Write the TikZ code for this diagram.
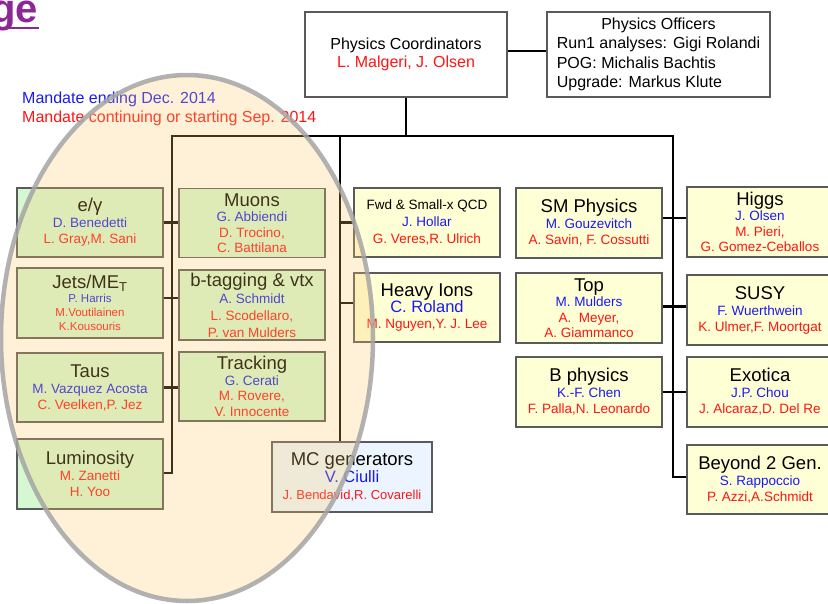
\documentclass[tikz,border=0pt]{standalone}
\usepackage{fontspec}
\setmainfont{Liberation Sans}
\definecolor{bordergray}{RGB}{90,90,90}
\definecolor{boxgreen}{RGB}{213,248,210}
\definecolor{boxyellow}{RGB}{255,255,213}
\definecolor{boxblue}{RGB}{236,245,255}
\definecolor{nameblue}{RGB}{25,25,245}
\definecolor{namered}{RGB}{255,20,20}
\definecolor{ovalfill}{RGB}{251,199,103}
\definecolor{ovalline}{RGB}{165,165,165}
\definecolor{titlepurple}{RGB}{140,40,150}
\newcommand{\boxhead}[1]{{\fontsize{18.5}{20}\selectfont #1}}
\newcommand{\bluename}[1]{{\color{nameblue}#1}}
\newcommand{\redname}[1]{{\color{namered}#1}}
\begin{document}
\begin{tikzpicture}[x=1pt,y=-1pt,
  box/.style={draw=bordergray, line width=1.1pt, minimum width=146pt, minimum height=69pt,
    inner sep=0pt, align=center, font=\fontsize{13.5}{16}\selectfont},
  gbox/.style={box, fill=boxgreen},
  ybox/.style={box, fill=boxyellow},
  link/.style={line width=2.7pt, draw=black, line join=miter}
]
\useasboundingbox (0,0) rectangle (828,603);

% title fragment
\node[anchor=base east, inner sep=0pt, text=titlepurple, font=\fontsize{40}{40}\selectfont\bfseries] (ttl) at (38,22) {ge};
\draw[titlepurple, line width=2.2pt] (ttl.base west |- 0,28) -- (39,28);

% legend
\node[anchor=base west, inner sep=0pt, text=nameblue, font=\fontsize{16}{19}\selectfont] (leg1) at (22,103) {Mandate ending Dec. 2014};
\node[anchor=base west, inner sep=0pt, text=namered, font=\fontsize{16}{19}\selectfont] (leg2) at (22,122) {Mandate continuing or starting Sep. 2014};

% top boxes
\node[box, minimum width=202pt, minimum height=85pt, fill=white, font=\fontsize{16}{18.5}\selectfont] (coord) at (406,54.5)
  {Physics Coordinators\\ \redname{L. Malgeri, J. Olsen}};
\node[box, minimum width=223pt, minimum height=85pt, fill=white, font=\fontsize{16}{19.5}\selectfont] (off) at (658.5,54.5)
  {\renewcommand{\arraystretch}{1}\begin{tabular}{@{}l@{}}\multicolumn{1}{@{}c@{}}{Physics Officers}\\ Run1 analyses: Gigi Rolandi\\ POG: Michalis Bachtis\\ Upgrade: Markus Klute\end{tabular}};

% left (green) boxes
\node[gbox] (eg) at (90,222.5) {\boxhead{e/γ}\\ \bluename{D. Benedetti}\\ \redname{L. Gray,M. Sani}};
\node[gbox, font=\fontsize{13.5}{15.5}\selectfont] (mu) at (252,223) {\boxhead{Muons}\\ \bluename{G. Abbiendi}\\ \redname{D. Trocino,}\\ \redname{C. Battilana}};
\node[gbox, minimum height=70pt, font=\fontsize{11.5}{14}\selectfont] (jet) at (90,303) {\boxhead{Jets/ME\textsubscript{T}}\\ \bluename{P. Harris}\\ \redname{M.Voutilainen}\\ \redname{K.Kousouris}};
\node[gbox, minimum height=70pt, font=\fontsize{13.5}{17}\selectfont] (bt) at (252,305) {\boxhead{b-tagging \& vtx}\\ \bluename{A. Schmidt}\\ \redname{L. Scodellaro,}\\ \redname{P. van Mulders}};
\node[gbox] (tau) at (90,387.5) {\boxhead{Taus}\\ \bluename{M. Vazquez Acosta}\\ \redname{C. Veelken,P. Jez}};
\node[gbox, font=\fontsize{13.5}{15.5}\selectfont] (trk) at (252,386.5) {\boxhead{Tracking}\\ \bluename{G. Cerati}\\ \redname{M. Rovere,}\\ \redname{V. Innocente}};
\node[gbox, minimum height=70pt] (lumi) at (90,474) {\boxhead{Luminosity}\\ \redname{M. Zanetti}\\ \redname{H. Yoo}};

% middle boxes
\node[ybox, font=\fontsize{13.5}{17}\selectfont] (fwd) at (427,222.5) {\color{black}Fwd \& Small-x QCD\\ \bluename{J. Hollar}\\ \redname{G. Veres,R. Ulrich}};
\node[ybox] (hi) at (427,307.5) {\boxhead{Heavy Ions}\\ {\fontsize{16.5}{19}\selectfont\bluename{C. Roland}}\\ \redname{M. Nguyen,Y. J. Lee}};
\node[box, fill=boxblue, minimum width=160pt, minimum height=70pt, font=\fontsize{13}{17}\selectfont] (mc) at (352,477) {\boxhead{MC generators}\\ {\fontsize{16.5}{19}\selectfont\bluename{V. Ciulli}}\\ \redname{J. Bendavid,R. Covarelli}};

\node[ybox, minimum height=70pt] (sm) at (589,223) {\boxhead{SM Physics}\\ \bluename{M. Gouzevitch}\\ \redname{A. Savin, F. Cossutti}};
\node[ybox, minimum height=70pt, font=\fontsize{13.5}{15.5}\selectfont] (top) at (589,308) {\boxhead{Top}\\ \bluename{M. Mulders}\\ \redname{A.\ \ Meyer,}\\ \redname{A. Giammanco}};
\node[ybox, minimum height=70pt] (bph) at (589,392) {\boxhead{B physics}\\ \bluename{K.-F. Chen}\\ \redname{F. Palla,N. Leonardo}};

% right boxes
\node[ybox, minimum height=70pt, font=\fontsize{13.5}{15.5}\selectfont] (higgs) at (760,222) {\boxhead{Higgs}\\ \bluename{J. Olsen}\\ \redname{M. Pieri,}\\ \redname{G. Gomez-Ceballos}};
\node[ybox, minimum height=70pt] (susy) at (760,310) {\boxhead{SUSY}\\ \bluename{F. Wuerthwein}\\ \redname{K. Ulmer,F. Moortgat}};
\node[ybox, minimum height=70pt] (exo) at (760,392) {\boxhead{Exotica}\\ \bluename{J.P. Chou}\\ \redname{J. Alcaraz,D. Del Re}};
\node[ybox] (bey) at (760,479.5) {\boxhead{Beyond 2 Gen.}\\ \bluename{S. Rappoccio}\\ \redname{P. Azzi,A.Schmidt}};

% bus coordinates
\coordinate (bL) at (172,136);
\coordinate (bM) at (340,136);
\coordinate (bR) at (673,136);
\coordinate (r2) at (172,298);
\coordinate (r5) at (340,303);
\coordinate (r6) at (673,218);
\coordinate (r7) at (673,306.5);

% connectors
\draw[link] ([yshift=3.5pt]coord.east) -- ([yshift=3.5pt]off.west);
\draw[link] (coord.south) -- (coord.south |- bL);
\draw[link] ([yshift=1pt]lumi.east) -| (bL) -- (bR) |- ([yshift=2.5pt]bey.west);
\draw[link] (bM) -- (bM |- mc.north);
\draw[link] (eg.east) -- (eg.east -| mu.west);
\draw[link] (jet.east |- r2) -- (bt.west |- r2);
\draw[link] (tau.east) -- (tau.east -| trk.west);
\draw[link] (bM |- fwd.west) -- (fwd.west);
\draw[link] (r5) -- (hi.west |- r5);
\draw[link] (sm.east |- r6) -- (higgs.west |- r6);
\draw[link] (top.east |- r7) -- (susy.west |- r7);
\draw[link] (bph.east) -- (exo.west);

% highlight oval
\fill[ovalfill, fill opacity=0.26] (187,338) ellipse [x radius=186pt, y radius=263pt];
\draw[ovalline, line width=4.5pt, draw opacity=0.85] (187,338) ellipse [x radius=186pt, y radius=263pt];
\end{tikzpicture}
\end{document}
